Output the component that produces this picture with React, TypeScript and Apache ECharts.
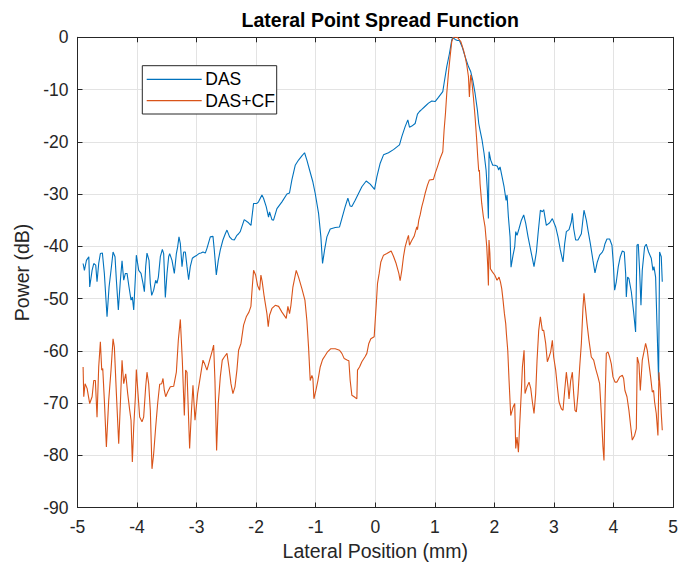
import React, { useEffect, useRef } from "react";
import * as echarts from "echarts";

const FONT = "'Liberation Sans', Arial, Helvetica, sans-serif";
const AXIS_COLOR = "#262626";
const GRID_COLOR = "#e3e3e3";
const DAS_COLOR = "#0072BD";
const CF_COLOR = "#D95319";

const titleText = "Lateral Point Spread Function";
const xLabel = "Lateral Position (mm)";
const yLabel = "Power (dB)";
const seriesNames = ["DAS", "DAS+CF"];

const xMin = -5;
const xMax = 5;
const xStep = 1;
const yMin = -90;
const yMax = 0;
const yStep = 10;

const dasPos = [
  -4.906, -4.884, -4.85, -4.81, -4.795, -4.755, -4.727, -4.694, -4.672, -4.644,
  -4.616, -4.582, -4.549, -4.504, -4.47, -4.437, -4.403, -4.37, -4.347, -4.314,
  -4.28, -4.252, -4.224, -4.196, -4.168, -4.135, -4.101, -4.079, -4.056, -4.028,
  -4.012, -3.972, -3.933, -3.9, -3.877, -3.855, -3.833, -3.799, -3.777, -3.754,
  -3.721, -3.687, -3.665, -3.642, -3.609, -3.575, -3.553, -3.525, -3.497, -3.469,
  -3.452, -3.413, -3.374, -3.34, -3.318, -3.296, -3.273, -3.245, -3.217, -3.189,
  -3.161, -3.134, -3.106, -3.072, -3.038, -2.994, -2.96, -2.927, -2.893, -2.854,
  -2.826, -2.77, -2.725, -2.703, -2.669, -2.636, -2.602, -2.558, -2.518, -2.49,
  -2.446, -2.406, -2.367, -2.323, -2.295, -2.267, -2.2, -2.128, -2.087, -2.043,
  -1.987, -1.96, -1.903, -1.876, -1.831, -1.792, -1.775, -1.735, -1.708, -1.651,
  -1.567, -1.483, -1.44, -1.4, -1.344, -1.288, -1.232, -1.187, -1.148, -1.103,
  -1.047, -1.008, -0.952, -0.913, -0.885, -0.851, -0.812, -0.756, -0.672, -0.6,
  -0.561, -0.505, -0.46, -0.421, -0.393, -0.337, -0.281, -0.225, -0.152, -0.085,
  -0.012, 0.027, 0.083, 0.139, 0.222, 0.306, 0.407, 0.446, 0.502, 0.547,
  0.575, 0.614, 0.67, 0.709, 0.743, 0.782, 0.838, 0.894, 0.95, 1.005,
  1.061, 1.134, 1.156, 1.201, 1.246, 1.285, 1.302, 1.341, 1.38, 1.414,
  1.458, 1.509, 1.565, 1.604, 1.637, 1.676, 1.716, 1.738, 1.76, 1.794,
  1.827, 1.861, 1.883, 1.9, 1.911, 1.939, 1.973, 2.012, 2.051, 2.073,
  2.096, 2.13, 2.163, 2.197, 2.213, 2.236, 2.264, 2.28, 2.314, 2.342,
  2.359, 2.381, 2.415, 2.454, 2.493, 2.527, 2.566, 2.622, 2.666, 2.706,
  2.734, 2.773, 2.806, 2.829, 2.873, 2.929, 2.974, 3.03, 3.069, 3.108,
  3.153, 3.181, 3.209, 3.254, 3.293, 3.31, 3.332, 3.365, 3.405, 3.461,
  3.505, 3.545, 3.572, 3.612, 3.656, 3.69, 3.729, 3.768, 3.813, 3.835,
  3.858, 3.891, 3.936, 3.975, 3.998, 4.02, 4.048, 4.081, 4.115, 4.149,
  4.182, 4.205, 4.216, 4.238, 4.26, 4.3, 4.339, 4.372, 4.395, 4.417,
  4.439, 4.462, 4.484, 4.523, 4.551, 4.59, 4.635, 4.663, 4.68, 4.708,
  4.758, 4.775, 4.803, 4.82,
];

const dasPower = [
  -43.3, -44.6, -42.7, -42.0, -47.8, -44.6, -43.3, -43.6, -46.8, -43.3,
  -41.4, -41.3, -45.2, -53.5, -47.8, -44.6, -41.1, -42.0, -46.5, -52.2,
  -46.5, -42.8, -46.5, -45.2, -45.2, -47.8, -50.3, -49.7, -52.2, -45.9,
  -41.7, -44.6, -45.2, -47.1, -48.7, -43.9, -41.3, -42.7, -47.1, -49.4,
  -48.4, -46.5, -47.1, -45.9, -42.0, -40.6, -41.4, -49.8, -45.2, -42.0,
  -41.4, -42.7, -45.2, -41.4, -40.1, -38.2, -39.5, -43.9, -41.1, -41.1,
  -43.9, -46.4, -43.9, -42.3, -42.0, -41.7, -41.4, -41.3, -41.1, -41.3,
  -40.4, -38.2, -38.1, -40.7, -45.5, -42.7, -40.7, -38.8, -37.6, -36.9,
  -38.2, -38.7, -38.8, -37.9, -37.6, -37.2, -34.9, -35.5, -36.0, -31.8,
  -31.8, -31.5, -30.2, -30.8, -32.4, -34.4, -33.4, -34.9, -35.0, -32.8,
  -31.5, -30.0, -29.8, -27.3, -24.5, -23.5, -22.7, -22.1, -23.5, -25.4,
  -27.7, -29.9, -33.7, -38.2, -43.3, -40.7, -38.2, -36.7, -36.4, -36.3,
  -34.7, -32.4, -30.8, -32.3, -32.4, -31.2, -29.9, -28.6, -27.5, -28.1,
  -29.1, -26.7, -24.1, -22.5, -22.1, -21.5, -20.6, -19.0, -17.1, -15.8,
  -17.2, -17.0, -16.5, -14.7, -14.2, -13.8, -13.2, -12.6, -12.2, -12.3,
  -11.5, -10.4, -8.8, -5.6, -3.1, -0.5, 0, -0.4, -0.6, -0.6,
  -1.8, -3.7, -5.6, -6.6, -8.2, -10.7, -14.0, -16.5, -17.8, -19.7,
  -22.2, -25.4, -29.3, -34.7, -21.9, -23.5, -24.5, -24.5, -24.7, -25.4,
  -24.8, -26.7, -28.6, -31.2, -30.2, -34.4, -38.2, -44.0, -41.7, -40.1,
  -37.2, -37.9, -36.6, -35.0, -34.0, -35.6, -38.2, -41.4, -43.9, -41.1,
  -37.6, -33.1, -33.4, -33.0, -36.0, -35.5, -34.7, -36.3, -38.2, -40.7,
  -43.0, -39.5, -37.2, -36.8, -35.3, -33.7, -36.6, -38.8, -38.8, -37.6,
  -33.1, -35.0, -36.9, -39.5, -42.7, -45.1, -43.0, -41.7, -41.1, -40.6,
  -39.5, -38.6, -38.6, -39.8, -43.3, -48.4, -46.8, -43.9, -42.0, -40.9,
  -41.1, -45.2, -49.7, -45.9, -46.2, -48.7, -52.6, -56.4, -39.8, -39.6,
  -44.6, -51.3, -44.6, -40.1, -39.6, -41.1, -42.3, -44.6, -43.9, -45.9,
  -65.7, -41.1, -42.0, -46.8,
];

const cfPos = [
  -4.906, -4.895, -4.873, -4.839, -4.795, -4.755, -4.727, -4.7, -4.672, -4.644,
  -4.616, -4.593, -4.576, -4.549, -4.515, -4.476, -4.437, -4.403, -4.381, -4.347,
  -4.308, -4.28, -4.252, -4.224, -4.19, -4.157, -4.123, -4.101, -4.079, -4.056,
  -4.028, -4.012, -3.984, -3.956, -3.917, -3.889, -3.855, -3.833, -3.805, -3.777,
  -3.749, -3.721, -3.687, -3.654, -3.62, -3.586, -3.564, -3.542, -3.519, -3.486,
  -3.441, -3.385, -3.34, -3.307, -3.273, -3.24, -3.206, -3.184, -3.161, -3.117,
  -3.089, -3.061, -3.027, -2.983, -2.938, -2.893, -2.865, -2.826, -2.781, -2.742,
  -2.714, -2.692, -2.664, -2.636, -2.602, -2.569, -2.535, -2.49, -2.457, -2.423,
  -2.39, -2.356, -2.323, -2.295, -2.255, -2.211, -2.166, -2.121, -2.088, -2.065,
  -2.043, -2.009, -1.976, -1.942, -1.92, -1.898, -1.864, -1.819, -1.797, -1.775,
  -1.735, -1.679, -1.623, -1.567, -1.495, -1.467, -1.439, -1.416, -1.383, -1.327,
  -1.288, -1.232, -1.181, -1.148, -1.12, -1.092, -1.064, -1.047, -1.03, -0.997,
  -0.963, -0.924, -0.885, -0.84, -0.801, -0.745, -0.672, -0.6, -0.561, -0.521,
  -0.466, -0.443, -0.421, -0.393, -0.354, -0.309, -0.298, -0.264, -0.225, -0.169,
  -0.141, -0.108, -0.074, -0.018, 0.016, 0.038, 0.066, 0.094, 0.139, 0.195,
  0.267, 0.306, 0.351, 0.396, 0.418, 0.446, 0.474, 0.502, 0.541, 0.558,
  0.575, 0.608, 0.653, 0.675, 0.698, 0.709, 0.731, 0.754, 0.782, 0.81,
  0.837, 0.877, 0.91, 0.977, 1.005, 1.044, 1.089, 1.134, 1.156, 1.179,
  1.201, 1.229, 1.257, 1.285, 1.313, 1.38, 1.436, 1.481, 1.509, 1.537,
  1.565, 1.581, 1.593, 1.604, 1.62, 1.648, 1.676, 1.704, 1.721, 1.738,
  1.749, 1.76, 1.788, 1.816, 1.844, 1.872, 1.89, 1.9, 1.91, 1.925,
  1.934, 1.967, 2.006, 2.046, 2.079, 2.102, 2.124, 2.146, 2.169, 2.191,
  2.202, 2.225, 2.247, 2.275, 2.314, 2.342, 2.359, 2.381, 2.404, 2.426,
  2.454, 2.471, 2.499, 2.515, 2.549, 2.583, 2.611, 2.639, 2.666, 2.694,
  2.717, 2.745, 2.773, 2.806, 2.829, 2.862, 2.89, 2.918, 2.946, 2.974,
  2.996, 3.03, 3.058, 3.086, 3.125, 3.153, 3.181, 3.209, 3.237, 3.254,
  3.282, 3.31, 3.332, 3.354, 3.377, 3.405, 3.433, 3.461, 3.489, 3.505,
  3.528, 3.556, 3.589, 3.628, 3.668, 3.701, 3.74, 3.768, 3.796, 3.824,
  3.841, 3.858, 3.88, 3.908, 3.936, 3.964, 3.992, 4.026, 4.059, 4.104,
  4.149, 4.171, 4.193, 4.227, 4.26, 4.288, 4.316, 4.355, 4.384, 4.4,
  4.428, 4.451, 4.484, 4.507, 4.54, 4.568, 4.596, 4.624, 4.652, 4.674,
  4.691, 4.719, 4.747, 4.764, 4.786, 4.803, 4.82,
];

const cfPower = [
  -63.1, -68.8, -66.3, -67.2, -70.1, -68.8, -65.7, -65.7, -72.7, -63.1,
  -58.3, -63.7, -63.4, -69.5, -78.4, -69.5, -63.7, -57.7, -59.3, -68.2,
  -77.8, -70.1, -61.8, -66.3, -64.4, -68.2, -71.4, -73.3, -81.3, -74.6,
  -68.8, -63.6, -68.2, -72.7, -73.6, -72.7, -66.9, -64.1, -66.3, -71.4,
  -82.6, -79.7, -74.6, -70.1, -66.4, -66.3, -65.3, -67.6, -68.8, -67.9,
  -66.9, -66.8, -64.1, -58.0, -54.0, -61.8, -72.4, -63.7, -64.1, -78.7,
  -72.0, -66.6, -73.3, -68.2, -65.0, -61.8, -62.5, -63.7, -61.8, -60.2,
  -58.9, -65.7, -79.1, -70.1, -65.0, -61.8, -61.2, -60.5, -63.1, -66.3,
  -68.2, -66.9, -63.7, -59.9, -58.6, -55.1, -53.5, -52.6, -51.5, -47.8,
  -44.6, -45.5, -47.5, -48.4, -45.5, -46.8, -49.7, -52.9, -55.4, -53.2,
  -51.9, -51.3, -51.5, -52.6, -53.8, -51.5, -52.9, -51.3, -47.8, -44.6,
  -45.9, -48.1, -50.3, -54.2, -59.3, -65.7, -64.7, -65.3, -69.2, -67.6,
  -65.7, -63.1, -61.7, -60.9, -60.2, -59.6, -59.6, -59.9, -60.5, -61.5,
  -61.8, -61.9, -65.7, -68.5, -68.8, -69.2, -63.7, -63.1, -62.1, -61.1,
  -60.5, -58.6, -57.7, -57.3, -51.3, -47.1, -45.2, -43.0, -41.7, -41.4,
  -40.9, -41.9, -43.3, -45.2, -46.6, -44.6, -42.0, -40.1, -38.5, -37.9,
  -39.8, -39.0, -38.1, -37.2, -36.3, -36.8, -35.0, -34.0, -32.4, -31.2,
  -29.9, -28.3, -27.3, -27.2, -26.1, -24.8, -23.2, -21.9, -17.8, -14.6,
  -10.7, -6.9, -3.7, -0.8, 0, 0, -0.8, -2.4, -3.7, -5.3,
  -7.5, -11.4, -8.8, -7.2, -8.2, -11.4, -15.2, -19.7, -22.9, -25.7,
  -25.4, -28.0, -31.8, -34.4, -36.3, -40.0, -44.0, -47.5, -38.8, -41.4,
  -44.3, -44.9, -45.5, -46.5, -45.9, -46.8, -48.1, -50.3, -52.9, -54.8,
  -56.7, -59.9, -65.7, -72.4, -70.8, -70.1, -78.7, -76.5, -79.4, -74.0,
  -67.6, -63.1, -59.9, -68.2, -66.9, -66.0, -67.2, -69.8, -72.0, -68.2,
  -61.8, -56.1, -53.5, -56.1, -56.1, -58.6, -62.1, -61.2, -60.2, -58.0,
  -61.2, -63.7, -66.9, -69.8, -71.1, -71.4, -67.6, -64.1, -66.9, -69.2,
  -65.7, -64.1, -68.2, -71.4, -71.7, -68.2, -63.1, -58.6, -51.6, -49.0,
  -51.6, -54.8, -58.0, -61.2, -61.8, -63.4, -65.0, -66.3, -72.0, -78.4,
  -81.0, -70.1, -60.5, -60.2, -61.2, -62.5, -65.0, -66.0, -66.0, -65.0,
  -64.7, -65.3, -67.6, -68.8, -71.4, -74.3, -77.1, -76.2, -74.9, -61.2,
  -62.5, -67.6, -61.8, -60.5, -58.6, -59.9, -62.5, -65.0, -67.9, -67.6,
  -69.8, -72.0, -76.2, -64.1, -67.6, -72.0, -75.2,
];

const W = 681;
const H = 568;
const GRID_LEFT = 77.5;
const GRID_RIGHT = 8;
const GRID_TOP = 37.3;
const GRID_BOTTOM = 60.5;

function zip(xs: number[], ys: number[]) {
  return xs.map((x, i) => [x, ys[i]]);
}

export default function App() {
  const ref = useRef<HTMLDivElement>(null);

  useEffect(() => {
    if (!ref.current) return;
    const chart = echarts.init(ref.current, undefined, { renderer: "svg" });

    const baseAxis = {
      axisLine: { show: true, onZero: false, lineStyle: { color: AXIS_COLOR, width: 1 } },
      axisTick: { show: true, inside: true, length: 5, lineStyle: { color: AXIS_COLOR, width: 1 } },
    };

    const legendLeft = 142.3;
    const legendTop = 65.7;
    const legendW = 134.4;
    const legendH = 48.3;
    const rowY = [79.3, 100.7];
    const colors = [DAS_COLOR, CF_COLOR];

    const legendGraphics: any[] = [
      {
        type: "rect",
        shape: { x: legendLeft, y: legendTop, width: legendW, height: legendH },
        style: { fill: "#ffffff", stroke: AXIS_COLOR, lineWidth: 1 },
        z: 100,
      },
    ];
    seriesNames.forEach((name, i) => {
      legendGraphics.push({
        type: "line",
        shape: { x1: legendLeft + 4.4, y1: rowY[i], x2: legendLeft + 59.4, y2: rowY[i] },
        style: { stroke: colors[i], lineWidth: 1.2 },
        z: 101,
      });
      legendGraphics.push({
        type: "text",
        x: legendLeft + 63,
        y: rowY[i],
        style: {
          text: name,
          fill: "#000000",
          font: `17.5px ${FONT}`,
          verticalAlign: "middle",
          textAlign: "left",
        },
        z: 101,
      });
    });

    chart.setOption({
      animation: false,
      backgroundColor: "#ffffff",
      textStyle: { fontFamily: FONT },
      title: {
        text: titleText,
        left: GRID_LEFT + (W - GRID_LEFT - GRID_RIGHT) / 2,
        top: 5,
        textAlign: "center",
        textStyle: { fontFamily: FONT, fontSize: 19.5, fontWeight: "bold", color: "#000000" },
      },
      grid: { left: GRID_LEFT, right: GRID_RIGHT, top: GRID_TOP, bottom: GRID_BOTTOM, containLabel: false },
      xAxis: [
        {
          ...baseAxis,
          type: "value",
          position: "bottom",
          min: xMin,
          max: xMax,
          interval: xStep,
          name: xLabel,
          nameLocation: "middle",
          nameGap: 33,
          nameTextStyle: { fontFamily: FONT, fontSize: 19.5, color: AXIS_COLOR },
          axisLabel: { margin: 10, fontFamily: FONT, fontSize: 17.5, color: AXIS_COLOR },
          splitLine: { show: true, lineStyle: { color: GRID_COLOR, width: 1 } },
        },
        {
          ...baseAxis,
          type: "value",
          position: "top",
          min: xMin,
          max: xMax,
          interval: xStep,
          axisLabel: { show: false },
          splitLine: { show: false },
        },
      ],
      yAxis: [
        {
          ...baseAxis,
          type: "value",
          position: "left",
          min: yMin,
          max: yMax,
          interval: yStep,
          name: yLabel,
          nameLocation: "middle",
          nameGap: 44,
          nameTextStyle: { fontFamily: FONT, fontSize: 19.5, color: AXIS_COLOR },
          axisLabel: { margin: 9, fontFamily: FONT, fontSize: 17.5, color: AXIS_COLOR },
          splitLine: { show: true, lineStyle: { color: GRID_COLOR, width: 1 } },
        },
        {
          ...baseAxis,
          type: "value",
          position: "right",
          min: yMin,
          max: yMax,
          interval: yStep,
          axisLabel: { show: false },
          splitLine: { show: false },
        },
      ],
      series: [
        {
          name: seriesNames[0],
          type: "line",
          data: zip(dasPos, dasPower),
          showSymbol: false,
          symbol: "none",
          lineStyle: { color: DAS_COLOR, width: 1.1 },
          itemStyle: { color: DAS_COLOR },
          z: 3,
        },
        {
          name: seriesNames[1],
          type: "line",
          data: zip(cfPos, cfPower),
          showSymbol: false,
          symbol: "none",
          lineStyle: { color: CF_COLOR, width: 1.1 },
          itemStyle: { color: CF_COLOR },
          z: 4,
        },
      ],
      graphic: legendGraphics,
    });

    return () => chart.dispose();
  }, []);

  return (
    <div
      ref={ref}
      style={{ position: "fixed", left: 0, top: 0, width: W, height: H, background: "#ffffff" }}
    />
  );
}
